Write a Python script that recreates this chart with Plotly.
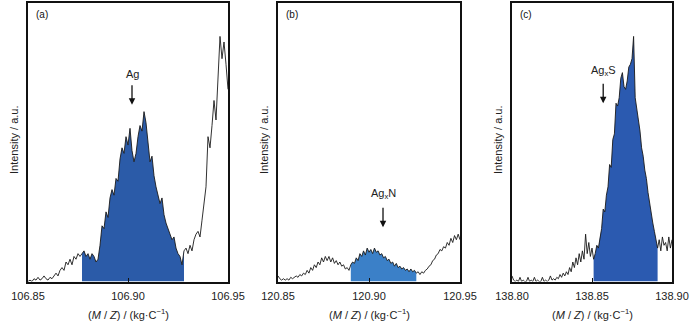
import plotly.graph_objects as go

# ---------------- data ----------------
mz_a = [106.850, 106.851, 106.852, 106.853, 106.854, 106.855, 106.856, 106.857, 106.858, 106.859,
        106.860, 106.861, 106.862, 106.863, 106.864, 106.865, 106.866, 106.867, 106.868, 106.869,
        106.870, 106.871, 106.872, 106.873, 106.874, 106.875, 106.876, 106.877, 106.878, 106.879,
        106.880, 106.881, 106.882, 106.883, 106.884, 106.885, 106.886, 106.887, 106.888, 106.889,
        106.890, 106.891, 106.892, 106.893, 106.894, 106.895, 106.896, 106.897, 106.898, 106.899,
        106.900, 106.901, 106.902, 106.903, 106.904, 106.905, 106.906, 106.907, 106.908, 106.909,
        106.910, 106.911, 106.912, 106.913, 106.914, 106.915, 106.916, 106.917, 106.918, 106.919,
        106.920, 106.921, 106.922, 106.923, 106.924, 106.925, 106.926, 106.927, 106.928, 106.929,
        106.930, 106.931, 106.932, 106.933, 106.934, 106.935, 106.936, 106.937, 106.938, 106.939,
        106.940, 106.941, 106.942, 106.943, 106.944, 106.945, 106.946, 106.947, 106.948, 106.949,
        106.950]
int_a = [0, 0.5, 0, 1, 0.5, 1.5, 0.5, 1, 2, 1,
         0.5, 1.5, 1, 2, 3, 2, 4, 5, 4, 7,
         6, 8, 6, 9, 8, 10, 9, 10, 11, 9,
         10, 8, 10, 9, 7, 8, 13, 20, 19, 25,
         23, 30, 33, 31, 37, 36, 44, 48, 46, 52,
         49, 55, 47, 43, 46, 52, 56, 54, 61, 57,
         50, 43, 45, 38, 34, 31, 28, 30, 24, 21,
         19, 17, 15, 16, 12, 10, 9, 6, 11, 12,
         10, 13, 11, 15, 17, 18, 16, 22, 29, 34,
         52, 48, 56, 65, 58, 72, 88, 80, 86, 78,
         69]

mz_b = [120.850, 120.851, 120.852, 120.853, 120.854, 120.855, 120.856, 120.857, 120.858, 120.859,
        120.860, 120.861, 120.862, 120.863, 120.864, 120.865, 120.866, 120.867, 120.868, 120.869,
        120.870, 120.871, 120.872, 120.873, 120.874, 120.875, 120.876, 120.877, 120.878, 120.879,
        120.880, 120.881, 120.882, 120.883, 120.884, 120.885, 120.886, 120.887, 120.888, 120.889,
        120.890, 120.891, 120.892, 120.893, 120.894, 120.895, 120.896, 120.897, 120.898, 120.899,
        120.900, 120.901, 120.902, 120.903, 120.904, 120.905, 120.906, 120.907, 120.908, 120.909,
        120.910, 120.911, 120.912, 120.913, 120.914, 120.915, 120.916, 120.917, 120.918, 120.919,
        120.920, 120.921, 120.922, 120.923, 120.924, 120.925, 120.926, 120.927, 120.928, 120.929,
        120.930, 120.931, 120.932, 120.933, 120.934, 120.935, 120.936, 120.937, 120.938, 120.939,
        120.940, 120.941, 120.942, 120.943, 120.944, 120.945, 120.946, 120.947, 120.948, 120.949,
        120.950]
int_b = [2, 1, 0.5, 1, 0.5, 1, 0.5, 1.5, 1, 1.5,
         2, 1.5, 2.5, 2, 3, 2.5, 4, 3, 5, 4,
         6, 5, 7, 6, 8.5, 7, 9, 7.5, 9, 7,
         8.5, 6.5, 7.5, 6, 7, 5.5, 6, 4.5, 5, 4,
         6, 7, 6.5, 8.5, 7.5, 10, 9, 11, 9.5, 12,
         10.5, 11.5, 10, 12, 10.5, 11, 9.5, 10, 8.5, 9,
         7.5, 8, 6.5, 7, 5.5, 6.5, 5, 5.5, 4.5, 5,
         4, 4.5, 3.5, 4.5, 3.5, 4, 3, 3.5, 2.5, 3.5,
         3, 4, 4.5, 5.5, 6, 7.5, 8, 9.5, 10, 11.5,
         11, 12.5, 12, 14, 13, 15.5, 14, 16.5, 15, 17,
         15]

mz_c = [138.800, 138.801, 138.802, 138.803, 138.804, 138.805, 138.806, 138.807, 138.808, 138.809,
        138.810, 138.811, 138.812, 138.813, 138.814, 138.815, 138.816, 138.817, 138.818, 138.819,
        138.820, 138.821, 138.822, 138.823, 138.824, 138.825, 138.826, 138.827, 138.828, 138.829,
        138.830, 138.831, 138.832, 138.833, 138.834, 138.835, 138.836, 138.837, 138.838, 138.839,
        138.840, 138.841, 138.842, 138.843, 138.844, 138.845, 138.846, 138.847, 138.848, 138.849,
        138.850, 138.851, 138.852, 138.853, 138.854, 138.855, 138.856, 138.857, 138.858, 138.859,
        138.860, 138.861, 138.862, 138.863, 138.864, 138.865, 138.866, 138.867, 138.868, 138.869,
        138.870, 138.871, 138.872, 138.873, 138.874, 138.875, 138.876, 138.877, 138.878, 138.879,
        138.880, 138.881, 138.882, 138.883, 138.884, 138.885, 138.886, 138.887, 138.888, 138.889,
        138.890, 138.891, 138.892, 138.893, 138.894, 138.895, 138.896, 138.897, 138.898, 138.899,
        138.900]
int_c = [2, 0.5, 0, 0.5, 0, 1.5, 0, 0.5, 0, 0,
         1.5, 0, 0.5, 0, 1.5, 0, 0.5, 0, 0, 1.5,
         0, 0.5, 0, 0.5, 2, 0.5, 1, 0.5, 1.5, 1,
         2.5, 1.5, 3, 2, 3.5, 2.5, 5, 3.5, 7, 5,
         8.5, 6, 10, 7, 11, 8, 17, 10, 14, 9,
         12, 8, 10, 13, 12, 16, 19, 26, 25, 31,
         34, 42, 41, 51, 53, 64, 63, 66, 73, 75,
         70, 69, 72, 77, 78, 80, 88, 66, 62, 59,
         54, 48, 45, 40, 37, 32, 28, 24, 21, 18,
         15, 12, 15, 11, 16, 13, 14, 11, 16, 12,
         15]

# integration windows (index ranges of shaded peaks)
window_a = (27, 78)
window_b = (40, 76)
window_c = (51, 91)

ticks_a = ["106.85", "106.90", "106.95"]
ticks_b = ["120.85", "120.90", "120.95"]
ticks_c = ["138.80", "138.85", "138.90"]

panel_labels = ["(a)", "(b)", "(c)"]
peak_labels = ["Ag", "Ag<sub>x</sub>N", "Ag<sub>x</sub>S"]
peak_pos = [106.902, 120.9077, 138.857]
arrow_head = [63.5, 19.5, 64]
label_y = [74.5, 31.5, 75.5]

fill_colors = ["#2b5ba8", "#3b80c8", "#2b5ab0"]

# ---------------- figure ----------------
W, H = 700, 325
FONT = "Liberation Sans, Arial, sans-serif"
dom_x = [(28 / W, 228 / W), (278 / W, 460 / W), (512 / W, 672 / W)]
dom_y = ((325 - 281.5) / H, (325 - 3) / H)

fig = go.Figure()
panels = [(mz_a, int_a, window_a, ticks_a),
          (mz_b, int_b, window_b, ticks_b),
          (mz_c, int_c, window_c, ticks_c)]

for k, (mz, inten, win, tks) in enumerate(panels):
    xa = "x" if k == 0 else f"x{k+1}"
    ya = "y" if k == 0 else f"y{k+1}"
    s, e = win
    fig.add_trace(go.Scatter(x=mz[s:e + 1], y=inten[s:e + 1], mode="lines",
                             line=dict(width=0, color=fill_colors[k]),
                             fill="tozeroy", fillcolor=fill_colors[k],
                             xaxis=xa, yaxis=ya, showlegend=False, hoverinfo="skip"))
    fig.add_trace(go.Scatter(x=mz, y=inten, mode="lines",
                             line=dict(width=0.9, color="#1a1a1a"),
                             xaxis=xa, yaxis=ya, showlegend=False))
    axx = dict(domain=list(dom_x[k]), range=[float(tks[0]), float(tks[-1])],
               tickvals=[float(t) for t in tks], ticktext=tks,
               ticks="inside", ticklen=4, tickwidth=1, tickcolor="#111",
               showline=True, linecolor="#111", linewidth=1.5, mirror=True,
               showgrid=False, zeroline=False, anchor=ya, automargin=False,
               tickfont=dict(family=FONT, size=11, color="#222"),
               ticklabelstandoff=4)
    axy = dict(domain=list(dom_y), range=[0, 100], showticklabels=False,
               ticks="", showline=True, linecolor="#111", linewidth=1.5, mirror=True,
               showgrid=False, zeroline=False, anchor=xa, automargin=False)
    key = "" if k == 0 else str(k + 1)
    fig.update_layout(**{f"xaxis{key}": axx, f"yaxis{key}": axy})

    x0, x1 = dom_x[k]
    # panel label
    fig.add_annotation(x=x0 + 6 / W, y=(325 - 15) / H, xref="paper", yref="paper",
                       text=panel_labels[k], showarrow=False,
                       xanchor="left", yanchor="middle",
                       font=dict(family=FONT, size=10, color="#111"))
    # y title
    fig.add_annotation(x=x0 - 14 / W, y=(325 - 140) / H, xref="paper", yref="paper",
                       text="Intensity / a.u.", textangle=-90, showarrow=False,
                       xanchor="center", yanchor="middle",
                       font=dict(family=FONT, size=11, color="#222"))
    # x title
    fig.add_annotation(x=(x0 + x1) / 2, y=(325 - 314) / H, xref="paper", yref="paper",
                       text="(<i>M</i> / <i>Z</i>) / (kg·C<sup>−1</sup>)", showarrow=False,
                       xanchor="center", yanchor="middle",
                       font=dict(family=FONT, size=11, color="#222"))
    # peak label + arrow
    fig.add_annotation(x=peak_pos[k], y=label_y[k], xref=xa, yref=ya,
                       text=peak_labels[k], showarrow=False,
                       xanchor="center", yanchor="middle",
                       font=dict(family=FONT, size=11, color="#222"))
    fig.add_annotation(x=peak_pos[k], y=arrow_head[k], xref=xa, yref=ya,
                       text="", showarrow=True, ax=0, ay=-21,
                       arrowhead=2, arrowsize=1, arrowwidth=1.3, arrowcolor="#111")

fig.update_layout(width=W, height=H, margin=dict(l=0, r=0, t=0, b=0),
                  paper_bgcolor="white", plot_bgcolor="white",
                  font=dict(family=FONT))

fig.write_html("out.html")
